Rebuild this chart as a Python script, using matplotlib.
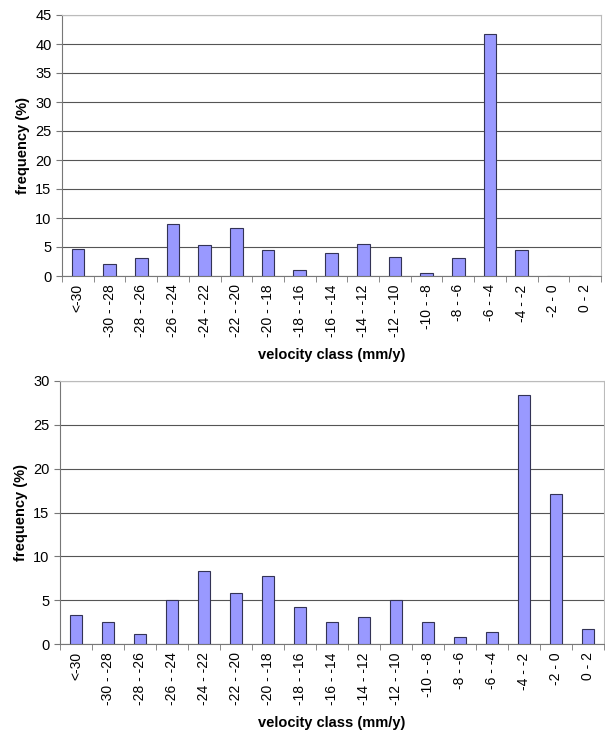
import matplotlib.pyplot as plt
import numpy as np

plt.rcParams['font.family'] = ['Liberation Sans', 'DejaVu Sans']

classes = ['<-30', '-30 - -28', '-28 - -26', '-26 - -24', '-24 - -22', '-22 - -20',
           '-20 - -18', '-18 - -16', '-16 - -14', '-14 - -12', '-12 - -10', '-10 - -8',
           '-8 - -6', '-6 - -4', '-4 - -2', '-2 - 0', '0 - 2']

freq_top = [4.7, 2.0, 3.1, 8.9, 5.3, 8.2, 4.4, 1.1, 3.9, 5.5, 3.3, 0.5, 3.1, 41.8, 4.4, 0, 0]
freq_bottom = [3.3, 2.5, 1.1, 5.0, 8.3, 5.8, 7.8, 4.2, 2.5, 3.1, 5.0, 2.5, 0.8, 1.4, 28.4, 17.1, 1.7]

W, H = 605, 733
fig = plt.figure(figsize=(W / 100, H / 100), dpi=100)

# axes boxes in pixels: left, top, right, bottom
boxes = [(62, 15, 601, 276), (60, 381, 604, 644)]
ymaxes = [45, 30]
steps = [5, 5]


def draw(ax, values, ymax, step):
    x = np.arange(len(classes))
    ax.bar(x, values, width=0.4, color='#9999ff', edgecolor='#333355', linewidth=0.8, zorder=3)
    ax.set_xlim(-0.5, len(classes) - 0.5)
    ax.set_ylim(0, ymax)
    ax.set_yticks(np.arange(0, ymax + 1, step))
    ax.yaxis.grid(True, color='#555555', linewidth=0.8, zorder=0)
    ax.set_xticks(x)
    ax.set_xticklabels(classes, rotation=90, fontsize=10)
    ax.tick_params(axis='x', length=0, pad=6)
    ax.set_xticks(np.arange(-0.5, len(classes)), minor=True)
    ax.tick_params(axis='x', which='minor', length=4, direction='out', color='#777777')
    ax.tick_params(axis='y', labelsize=10.5, length=4, color='#777777')
    for s in ['top', 'right']:
        ax.spines[s].set_color('#bbbbbb')
    ax.spines['left'].set_color('#777777')
    ax.spines['bottom'].set_color('#777777')
    ax.set_ylabel('frequency (%)', fontsize=10.5, fontweight='bold')
    ax.set_xlabel('velocity class (mm/y)', fontsize=10.5, fontweight='bold', labelpad=8)


for (l, t, r, b), vals, ymax, step in zip(boxes, [freq_top, freq_bottom], ymaxes, steps):
    ax = fig.add_axes([l / W, 1 - b / H, (r - l) / W, (b - t) / H])
    draw(ax, vals, ymax, step)

fig.savefig('out.png', dpi=100)
